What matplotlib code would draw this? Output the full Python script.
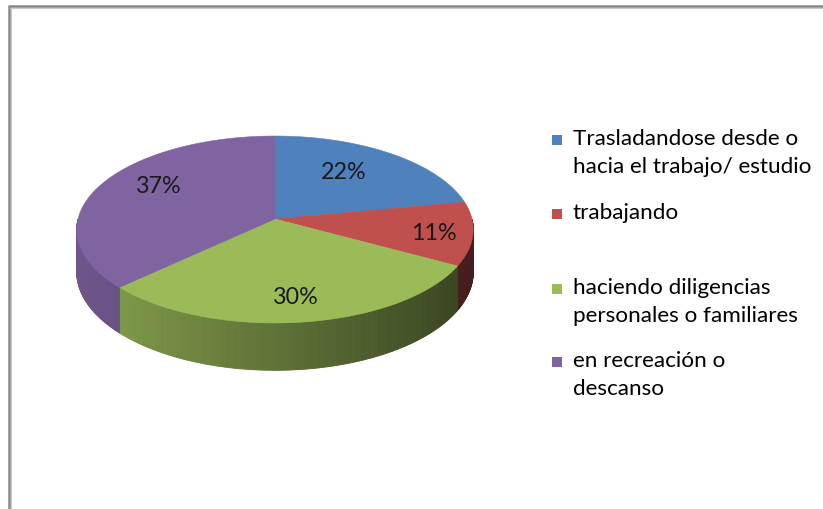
import numpy as np
import matplotlib.pyplot as plt
from matplotlib.patches import Polygon, Rectangle
from matplotlib.colors import to_rgb

# ================================
# Data
# ================================
labels = [
    "Trasladandose desde o\nhacia el trabajo/ estudio",
    "trabajando",
    "haciendo diligencias\npersonales o familiares",
    "en recreación o\ndescanso",
]
values = [22, 11, 30, 37]
colors = ["#4F81BD", "#C0504D", "#9BBB59", "#8064A2"]

# ================================
# Layout (pixel space)
# ================================
W, H = 823, 510
vx, vy = 275, 220        # projected pie centre
A, B = 197, 92.3         # horizontal / vertical radius scale
k = 8.9                  # perspective strength
d0 = 42                  # thickness of the pie

label_pos = [(344, 173), (434, 234), (296, 298), (159, 187)]
legend_base = [145, 219, 294, 367]
legend_x = 552
line_gap = 28.5

plt.rcParams["font.family"] = ["Lato", "DejaVu Sans"]

fig = plt.figure(figsize=(W / 100, H / 100), dpi=100)
ax = fig.add_axes([0, 0, 1, 1])
ax.set_xlim(0, W)
ax.set_ylim(H, 0)
ax.axis("off")


def rim(theta_deg, bottom=False):
    # perspective projection of the pie rim (theta clockwise from the back)
    t = np.radians(theta_deg)
    s = 1.0 / (1.0 + np.cos(t) / k)
    x = vx + A * np.sin(t) * s
    y = vy - B * np.cos(t) * s
    if bottom:
        y = y + d0 * s
    return x, y


total = float(sum(values))
bounds = np.concatenate([[0], np.cumsum(values)]) / total * 360.0

# sides (only the front half of the rim is visible)
for i, col in enumerate(colors):
    a0, a1 = max(bounds[i], 90), min(bounds[i + 1], 270)
    if a1 <= a0:
        continue
    base = np.array(to_rgb(col))
    steps = np.linspace(a0, a1, max(int((a1 - a0) * 2), 2))
    for s0, s1 in zip(steps[:-1], steps[1:]):
        x0, y0 = rim(s0)
        x1, y1 = rim(s1)
        bx0, by0 = rim(s0, bottom=True)
        bx1, by1 = rim(s1, bottom=True)
        xm = (x0 + x1) / 2
        shade = 0.36 + 0.5 * (vx + A - xm) / (2 * A)
        shade = min(max(shade, 0.34), 0.86)
        quad = [(x0, y0), (x1, y1), (bx1, by1), (bx0, by0)]
        ax.add_patch(Polygon(quad, closed=True, facecolor=base * shade,
                             edgecolor=base * shade, lw=0.6))

# top faces
for i, col in enumerate(colors):
    th = np.linspace(bounds[i], bounds[i + 1], 120)
    xs, ys = rim(th)
    pts = [(vx, vy)] + list(zip(xs, ys))
    ax.add_patch(Polygon(pts, closed=True, facecolor=col, edgecolor=col, lw=0.4))

# percentage labels
for (px, py), v in zip(label_pos, values):
    ax.text(px, py, f"{v}%", fontsize=16.8, color="#1a1a1a",
            ha="center", va="center")

# legend
for lab, col, by in zip(labels, colors, legend_base):
    ax.add_patch(Rectangle((legend_x, by - 9), 10, 10, facecolor=col,
                           edgecolor="none"))
    for j, line in enumerate(lab.split("\n")):
        ax.text(legend_x + 21, by + j * line_gap, line, fontsize=16.2,
                color="black", ha="left", va="baseline")

# chart frame
ax.plot([8, W], [7, 7], color="#888888", lw=1.8, solid_capstyle="butt")
ax.plot([9, 9], [7, H], color="#888888", lw=1.8, solid_capstyle="butt")
ax.plot([10, W], [9, 9], color="#c8c8c8", lw=0.8)
ax.plot([11, 11], [9, H], color="#c8c8c8", lw=0.8)

fig.savefig("out.png", dpi=100)
